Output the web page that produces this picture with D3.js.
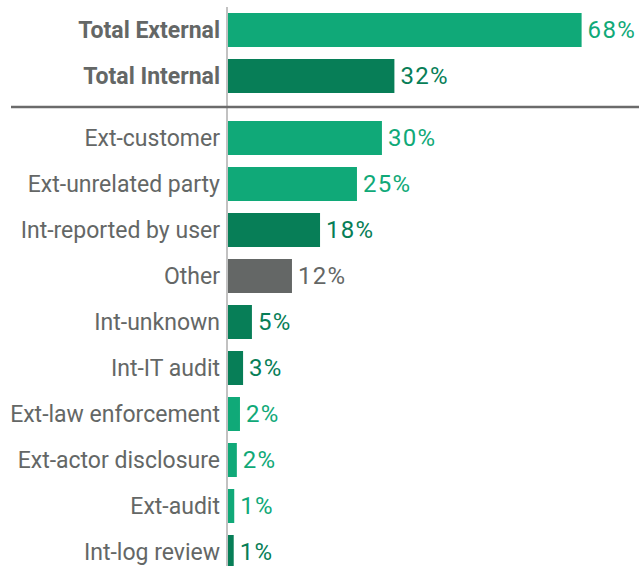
<!DOCTYPE html>
<html>
<head>
<meta charset="utf-8">
<script src="https://cdn.jsdelivr.net/npm/d3@7"></script>
<style>
  html, body { margin: 0; padding: 0; background: #ffffff; }
  svg { display: block; }
</style>
</head>
<body>
<div id="chart"></div>
<script>
// ---- data ----
const categories = [
  "Total External", "Total Internal",
  "Ext-customer", "Ext-unrelated party", "Int-reported by user", "Other",
  "Int-unknown", "Int-IT audit", "Ext-law enforcement", "Ext-actor disclosure",
  "Ext-audit", "Int-log review"
];
const values = [68, 32, 29.6, 24.8, 17.7, 12.3, 4.6, 2.9, 2.3, 1.7, 1.2, 1.1];
const valueLabels = ["68%", "32%", "30%", "25%", "18%", "12%", "5%", "3%", "2%", "2%", "1%", "1%"];
const groups = ["ext", "int", "ext", "ext", "int", "other", "int", "int", "ext", "ext", "ext", "int"];
const totalCategories = ["Total External", "Total Internal"];

// ---- styles ----
const W = 639, H = 566;
const colors = { ext: "#10a978", int: "#077e57", other: "#646766" };
const textColor = "#646766";
const catFont = "Roboto, 'DejaVu Sans', sans-serif";
const fontSize = 23;
const axisX = 227;
const groupGap = 16;

const svg = d3.select("#chart").append("svg")
  .attr("width", W).attr("height", H);

const x = d3.scaleLinear().domain([0, 100]).range([axisX, axisX + 520]);
const y = d3.scaleBand().domain(categories)
  .range([7, 7 + categories.length * 46])
  .paddingInner(12 / 46).paddingOuter(6 / 46);

const yPos = (c) => y(c) + (totalCategories.includes(c) ? 0 : groupGap);

const data = categories.map((c, i) => ({ cat: c, v: values[i], label: valueLabels[i], g: groups[i] }));

// bars
svg.append("g").selectAll("rect").data(data).join("rect")
  .attr("x", x(0) + 1)
  .attr("y", d => yPos(d.cat))
  .attr("width", d => x(d.v) - x(0))
  .attr("height", y.bandwidth())
  .attr("fill", d => colors[d.g]);

// value labels
svg.append("g").selectAll("text").data(data).join("text")
  .attr("x", d => x(d.v) + 7)
  .attr("y", d => yPos(d.cat) + y.bandwidth() / 2)
  .attr("dy", "0.34em")
  .attr("font-family", catFont)
  .attr("font-size", 24)
  .attr("letter-spacing", 1.3)
  .attr("fill", d => colors[d.g])
  .text(d => d.label);

// category labels
svg.append("g").selectAll("text").data(data).join("text")
  .attr("x", axisX - 7)
  .attr("y", d => yPos(d.cat) + y.bandwidth() / 2)
  .attr("dy", "0.34em")
  .attr("text-anchor", "end")
  .attr("font-family", catFont)
  .attr("font-size", fontSize)
  .attr("font-weight", d => totalCategories.includes(d.cat) ? 700 : 400)
  .attr("fill", textColor)
  .text(d => d.cat);

// vertical axis line
svg.append("line")
  .attr("x1", axisX).attr("x2", axisX)
  .attr("y1", 7).attr("y2", H)
  .attr("stroke", "#c2c2c2").attr("stroke-width", 2);

// separator
const sepY = (yPos(categories[1]) + y.bandwidth() + yPos(categories[2])) / 2;
svg.append("line")
  .attr("x1", 11).attr("x2", W)
  .attr("y1", sepY).attr("y2", sepY)
  .attr("stroke", "#6b6b6b").attr("stroke-width", 2.5);
</script>
</body>
</html>
